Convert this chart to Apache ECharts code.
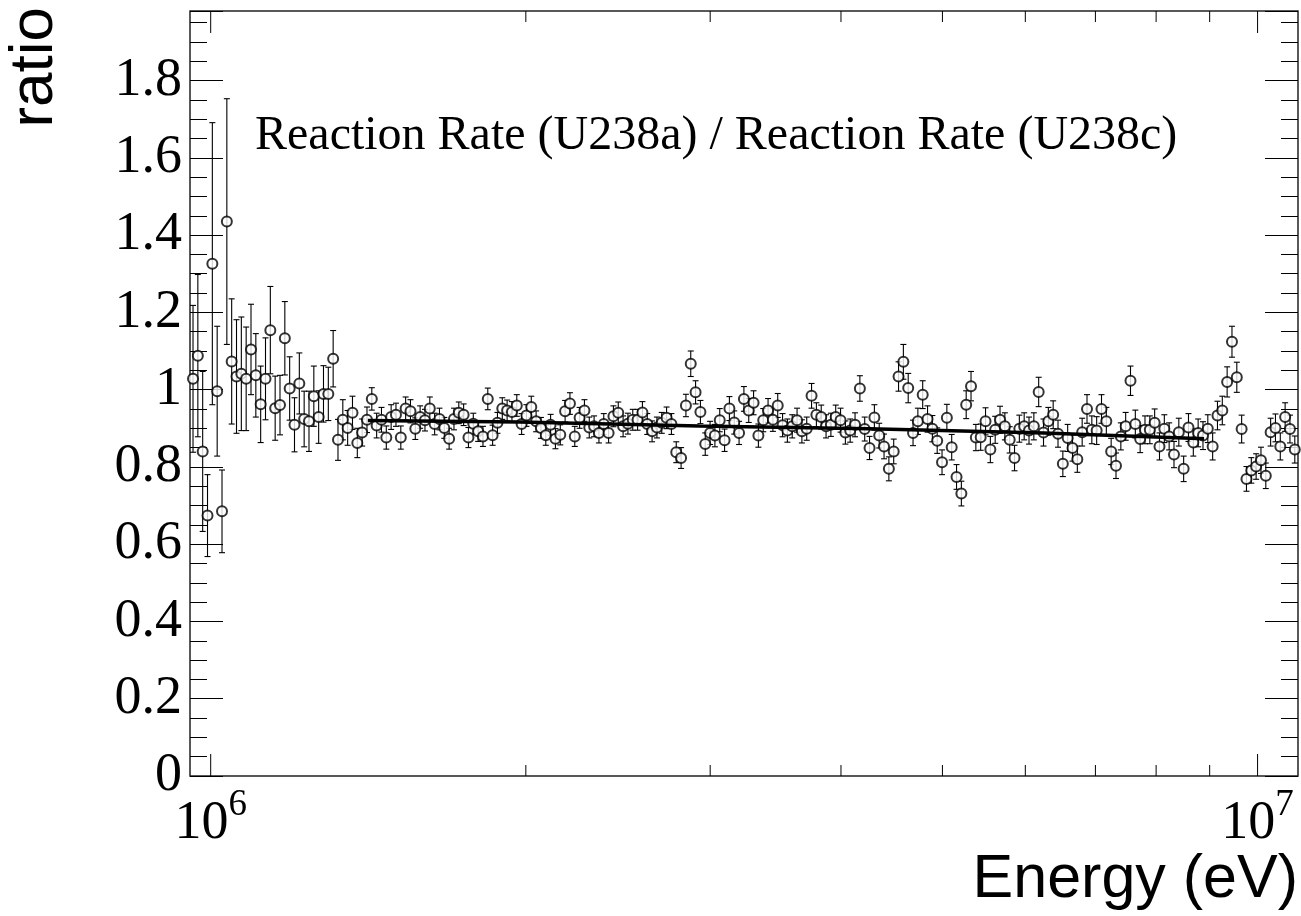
<!DOCTYPE html>
<html><head><meta charset="utf-8">
<script src="https://cdn.jsdelivr.net/npm/echarts@6/dist/echarts.min.js"></script>
<style>html,body{margin:0;padding:0;background:#fff}#c{width:1301px;height:916px}</style>
</head><body><div id="c"></div>
<script>
// Log-spaced energy bins (bin centres): first centre and width in log10(E/eV)
const binLog10Start = 5.98311;
const binLog10Width = 0.004616;

// Ratio per bin
const ratio = [
1.028,1.088,0.840,0.674,1.326,0.996,0.685,1.435,1.073,1.034,
1.041,1.028,1.104,1.037,0.962,1.028,1.154,0.952,0.960,1.133,
1.003,0.909,1.016,0.924,0.918,0.983,0.929,0.989,0.989,1.080,
0.870,0.922,0.901,0.940,0.862,0.889,0.922,0.976,0.907,0.922,
0.876,0.929,0.935,0.876,0.951,0.944,0.899,0.929,0.921,0.951,
0.911,0.924,0.901,0.873,0.924,0.940,0.935,0.876,0.912,0.892,
0.879,0.976,0.882,0.914,0.951,0.946,0.942,0.959,0.911,0.933,
0.955,0.918,0.901,0.882,0.909,0.873,0.883,0.944,0.964,0.879,
0.927,0.946,0.902,0.905,0.888,0.911,0.888,0.931,0.940,0.905,
0.912,0.922,0.922,0.941,0.911,0.892,0.902,0.914,0.927,0.911,
0.838,0.823,0.959,1.067,0.993,0.942,0.859,0.888,0.881,0.921,
0.869,0.951,0.915,0.888,0.976,0.946,0.966,0.881,0.921,0.946,
0.922,0.959,0.908,0.894,0.905,0.921,0.892,0.899,0.984,0.935,
0.929,0.905,0.909,0.929,0.921,0.889,0.894,0.909,1.003,0.898,
0.849,0.928,0.881,0.853,0.795,0.840,1.034,1.072,1.004,0.888,
0.918,0.987,0.924,0.899,0.868,0.812,0.927,0.851,0.774,0.731,
0.961,1.009,0.876,0.877,0.918,0.845,0.896,0.922,0.905,0.870,
0.823,0.899,0.905,0.894,0.905,0.994,0.889,0.918,0.935,0.886,
0.808,0.875,0.849,0.820,0.890,0.950,0.896,0.894,0.950,0.918,
0.840,0.803,0.879,0.905,1.023,0.911,0.872,0.896,0.896,0.914,
0.853,0.899,0.879,0.832,0.890,0.795,0.902,0.863,0.888,0.881,
0.899,0.853,0.933,0.946,1.020,1.124,1.032,0.898,0.769,0.791,
0.801,0.817,0.777,0.890,0.901,0.853,0.929,0.898,0.845
];

// Symmetric statistical error per bin
const ratioErr = [
0.190,0.210,0.207,0.106,0.365,0.168,0.107,0.318,0.162,0.147,
0.147,0.134,0.117,0.108,0.099,0.106,0.113,0.083,0.077,0.095,
0.082,0.070,0.079,0.072,0.078,0.078,0.068,0.073,0.069,0.073,
0.053,0.052,0.045,0.043,0.038,0.035,0.033,0.029,0.032,0.032,
0.030,0.032,0.030,0.030,0.030,0.030,0.028,0.029,0.028,0.030,
0.028,0.028,0.027,0.027,0.028,0.028,0.028,0.026,0.027,0.026,
0.026,0.028,0.026,0.027,0.028,0.027,0.027,0.028,0.027,0.028,
0.028,0.027,0.027,0.026,0.027,0.026,0.026,0.028,0.028,0.026,
0.027,0.028,0.027,0.027,0.026,0.027,0.026,0.027,0.028,0.027,
0.027,0.027,0.027,0.028,0.027,0.027,0.027,0.027,0.028,0.027,
0.027,0.027,0.029,0.033,0.030,0.030,0.029,0.030,0.029,0.030,
0.029,0.031,0.030,0.030,0.032,0.031,0.031,0.030,0.030,0.031,
0.030,0.031,0.030,0.030,0.030,0.031,0.030,0.030,0.032,0.031,
0.031,0.030,0.030,0.031,0.031,0.030,0.030,0.031,0.033,0.031,
0.030,0.033,0.032,0.032,0.031,0.032,0.038,0.045,0.038,0.033,
0.034,0.036,0.034,0.034,0.033,0.032,0.035,0.033,0.032,0.032,
0.036,0.038,0.034,0.034,0.035,0.034,0.035,0.035,0.035,0.034,
0.033,0.035,0.035,0.035,0.035,0.038,0.035,0.036,0.036,0.035,
0.033,0.035,0.034,0.034,0.036,0.037,0.036,0.036,0.037,0.036,
0.034,0.033,0.035,0.036,0.038,0.036,0.035,0.036,0.036,0.036,
0.035,0.036,0.035,0.034,0.036,0.033,0.036,0.035,0.036,0.036,
0.036,0.035,0.037,0.037,0.039,0.040,0.039,0.036,0.032,0.033,
0.033,0.034,0.033,0.036,0.036,0.035,0.037,0.036,0.035
];

// Fitted curve (energy in eV, ratio)
const fitEnergy = [1.413e6, 1.973e6, 2.93e6, 4.26e6, 6.25e6, 8.89e6];
const fitRatio  = [0.920, 0.916, 0.906, 0.899, 0.888, 0.873];

// Axis ticks
const xTickValues = [1e6,2e6,3e6,4e6,5e6,6e6,7e6,8e6,9e6,1e7];
const xTickLabels = {1000000: ['10','6'], 10000000: ['10','7']};
const yTickLabels = ['0','0.2','0.4','0.6','0.8','1','1.2','1.4','1.6','1.8'];

const X_MIN = 955500, X_MAX = 10930000, Y_MIN = 0, Y_MAX = 1.98;

const energies = ratio.map((_, i) => Math.pow(10, binLog10Start + i * binLog10Width));
const points = ratio.map((v, i) => [energies[i], v]);
const bars = ratio.map((v, i) => [energies[i], v - ratioErr[i], v + ratioErr[i]]);
const fitLine = fitEnergy.map((e, i) => [e, fitRatio[i]]);
const xTicks = xTickValues.map(v => [v, (xTickLabels[v] ? 1 : 0)]);

const chart = echarts.init(document.getElementById('c'), null, {renderer: 'canvas'});
const serif = '"Liberation Serif", "Times New Roman", serif';
const sans = '"Liberation Sans", Arial, sans-serif';

function yLab(v) {
  const idx = Math.round(v / 0.2);
  if (Math.abs(v - idx * 0.2) > 1e-6 || idx < 0 || idx >= yTickLabels.length) return '';
  return yTickLabels[idx];
}

const yAxisCommon = {
  type: 'value', min: Y_MIN, max: Y_MAX, interval: 0.2,
  axisLine: {show: false},
  splitLine: {show: false},
  axisTick: {show: true, inside: true, length: 33, lineStyle: {color: '#000', width: 1}},
  minorTick: {show: true, splitNumber: 4, length: 17, lineStyle: {color: '#000', width: 1}},
  minorSplitLine: {show: false}
};

chart.setOption({
  animation: false,
  backgroundColor: '#fff',
  grid: {left: 190, right: 2, top: 11, bottom: 140, show: true, borderColor: '#222', borderWidth: 1.5, backgroundColor: 'transparent'},
  xAxis: {
    type: 'log', logBase: 10, min: X_MIN, max: X_MAX,
    axisLine: {show: false}, splitLine: {show: false}, axisTick: {show: false},
    axisLabel: {
      show: true, margin: 11, color: '#000',
      formatter: function (v) {
        const key = Math.round(v);
        const l = xTickLabels[key];
        return l ? '{b|' + l[0] + '}{s|' + l[1] + '}' : '';
      },
      rich: {
        b: {fontFamily: serif, fontSize: 54, color: '#000', padding: [10, 0, 0, 0], verticalAlign: 'top'},
        s: {fontFamily: serif, fontSize: 37, color: '#000', verticalAlign: 'top'}
      }
    }
  },
  yAxis: [
    Object.assign({}, yAxisCommon, {
      position: 'left',
      axisLabel: {show: true, margin: 8, color: '#000', fontFamily: serif, fontSize: 54, formatter: yLab}
    }),
    Object.assign({}, yAxisCommon, {position: 'right', axisLabel: {show: false}})
  ],
  graphic: [
    {type: 'text', x: 66, y: 7, rotation: Math.PI / 2,
     style: {text: 'ratio', font: '62px ' + sans, fill: '#000', textAlign: 'right', textVerticalAlign: 'bottom'}},
    {type: 'text', x: 1298, y: 911,
     style: {text: 'Energy (eV)', font: '61px ' + sans, fill: '#000', textAlign: 'right', textVerticalAlign: 'bottom'}},
    {type: 'text', x: 255, y: 136,
     style: {text: 'Reaction Rate (U238a) / Reaction Rate (U238c)', font: '48px ' + serif, fill: '#000', textAlign: 'left', textVerticalAlign: 'middle'}}
  ],
  series: [
    {
      type: 'custom', name: 'xticks', data: xTicks, silent: true, z: 3,
      renderItem: function (params, api) {
        const v = api.value(0), major = api.value(1) === 1;
        const len = major ? 22 : 11;
        const b = api.coord([v, Y_MIN]);
        const t = api.coord([v, Y_MAX]);
        const st = {stroke: '#000', lineWidth: 1};
        return {type: 'group', children: [
          {type: 'line', shape: {x1: b[0], y1: b[1], x2: b[0], y2: b[1] - len}, style: st},
          {type: 'line', shape: {x1: t[0], y1: t[1], x2: t[0], y2: t[1] + len}, style: st}
        ]};
      }
    },
    {
      type: 'custom', name: 'errors', data: bars, silent: true, z: 4,
      renderItem: function (params, api) {
        const x = api.value(0);
        const lo = api.coord([x, api.value(1)]);
        const hi = api.coord([x, api.value(2)]);
        const c = 3;
        const st = {stroke: '#000', lineWidth: 1.1};
        return {type: 'group', children: [
          {type: 'line', shape: {x1: lo[0], y1: lo[1], x2: hi[0], y2: hi[1]}, style: st},
          {type: 'line', shape: {x1: lo[0] - c, y1: lo[1], x2: lo[0] + c, y2: lo[1]}, style: st},
          {type: 'line', shape: {x1: hi[0] - c, y1: hi[1], x2: hi[0] + c, y2: hi[1]}, style: st}
        ]};
      }
    },
    {
      type: 'scatter', name: 'ratio', data: points, z: 5,
      symbol: 'emptyCircle', symbolSize: 10,
      itemStyle: {color: '#000', borderColor: '#000', borderWidth: 1.3}
    },
    {
      type: 'line', name: 'fit', data: fitLine, z: 6, showSymbol: false, symbol: 'none',
      lineStyle: {color: '#000', width: 3.5}
    }
  ]
});
</script></body></html>
